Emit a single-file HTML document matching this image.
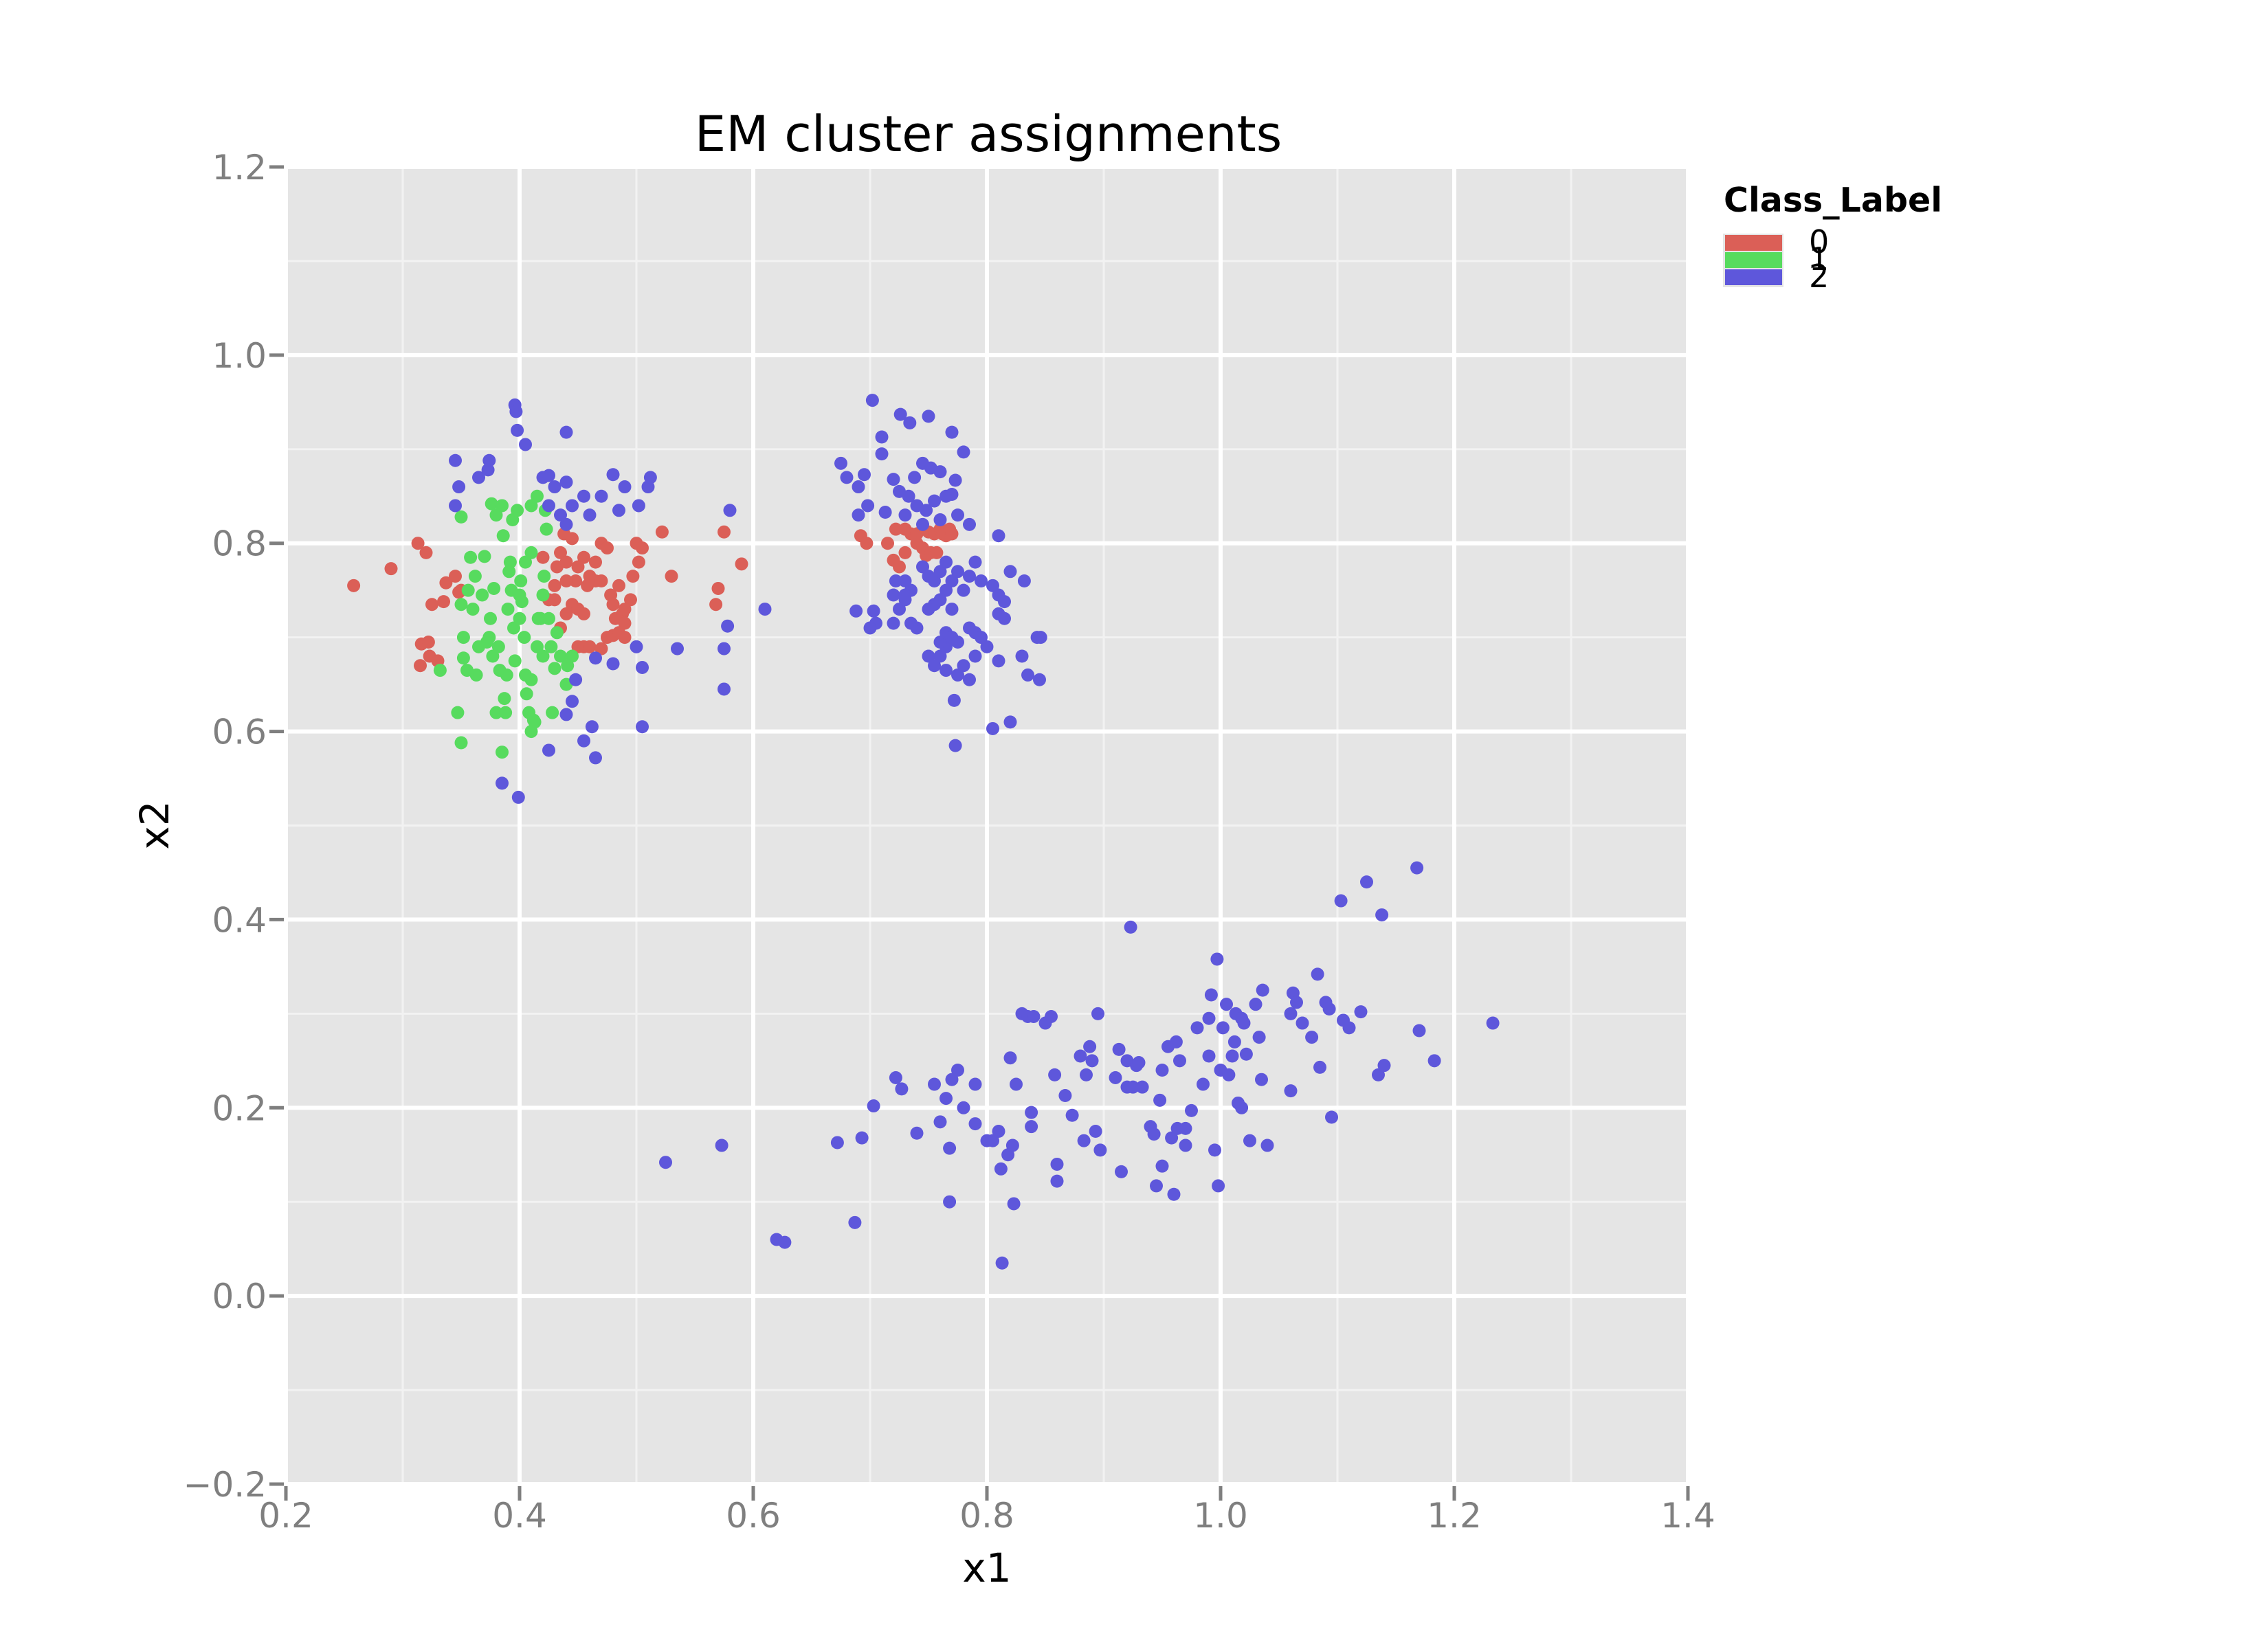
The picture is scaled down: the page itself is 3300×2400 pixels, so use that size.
<!DOCTYPE html>
<html><head><meta charset="utf-8"><style>
html,body{margin:0;padding:0;background:#fff;}
svg{display:block;font-family:"DejaVu Sans","Liberation Sans",sans-serif;}
</style></head><body>
<svg id="chart" width="3300" height="2400" viewBox="0 0 3300 2400" xmlns="http://www.w3.org/2000/svg">
<rect width="3300" height="2400" fill="#fff"/>
<text x="1438" y="220" font-size="72" text-anchor="middle" fill="#000">EM cluster assignments</text>
<rect x="416" y="243" width="2040" height="1917" fill="#e5e5e5"/>
<g id="grid"></g>
<g id="axes"></g>
<g id="marks"></g>
<text x="1436" y="2302" font-size="58" text-anchor="middle" fill="#000">x1</text>
<text x="0" y="0" font-size="58" text-anchor="middle" fill="#000" transform="translate(245,1201) rotate(-90)">x2</text>
<g>
<text x="2508" y="308" font-size="49" font-weight="bold" fill="#000">Class_Label</text>
<rect x="2507" y="340" width="88" height="78" fill="#e5e5e5"/>
<rect x="2510" y="342" width="83" height="23" fill="#db5f57"/>
<rect x="2510" y="367" width="83" height="23" fill="#57db5e"/>
<rect x="2510" y="392" width="83" height="23" fill="#5e57db"/>
<text x="2632" y="368" font-size="46" fill="#000">0</text>
<text x="2632" y="393" font-size="46" fill="#000">1</text>
<text x="2632" y="418" font-size="46" fill="#000">2</text>
</g>
</svg>
<script>
const xTicks = [0.2,0.4,0.6,0.8,1.0,1.2,1.4];
const yTicks = [-0.2,0.0,0.2,0.4,0.6,0.8,1.0,1.2];
const xTickLabels = ["0.2","0.4","0.6","0.8","1.0","1.2","1.4"];
const yTickLabels = ["\u22120.2","0.0","0.2","0.4","0.6","0.8","1.0","1.2"];
const classColors = ["#db5f57","#57db5e","#5e57db"];
const class0Points = [[0.258,0.755],[0.29,0.773],[0.313,0.8],[0.32,0.79],[0.316,0.693],[0.322,0.695],[0.315,0.67],[0.323,0.68],[0.33,0.675],[0.325,0.735],[0.335,0.738],[0.337,0.758],[0.345,0.765],[0.348,0.748],[0.35,0.75],[0.42,0.785],[0.425,0.74],[0.43,0.755],[0.432,0.775],[0.435,0.79],[0.438,0.81],[0.44,0.78],[0.445,0.805],[0.448,0.76],[0.45,0.775],[0.455,0.785],[0.46,0.765],[0.465,0.78],[0.47,0.8],[0.475,0.795],[0.465,0.76],[0.47,0.76],[0.478,0.745],[0.48,0.735],[0.485,0.755],[0.482,0.72],[0.488,0.725],[0.49,0.715],[0.495,0.74],[0.49,0.73],[0.497,0.765],[0.5,0.8],[0.502,0.78],[0.505,0.795],[0.44,0.725],[0.445,0.735],[0.45,0.73],[0.455,0.725],[0.435,0.71],[0.45,0.69],[0.455,0.69],[0.46,0.69],[0.47,0.688],[0.475,0.7],[0.48,0.702],[0.485,0.705],[0.49,0.7],[0.43,0.74],[0.44,0.76],[0.458,0.755],[0.522,0.812],[0.53,0.765],[0.568,0.735],[0.57,0.752],[0.575,0.812],[0.59,0.778],[0.692,0.808],[0.697,0.8],[0.715,0.8],[0.72,0.782],[0.722,0.815],[0.725,0.775],[0.73,0.79],[0.73,0.815],[0.735,0.81],[0.74,0.8],[0.745,0.795],[0.748,0.787],[0.75,0.812],[0.752,0.79],[0.755,0.81],[0.757,0.79],[0.76,0.815],[0.762,0.81],[0.765,0.808],[0.768,0.815],[0.77,0.81],[0.745,0.815],[0.74,0.81]];
const class1Points = [[0.332,0.665],[0.347,0.62],[0.35,0.588],[0.35,0.828],[0.35,0.735],[0.352,0.7],[0.352,0.678],[0.355,0.665],[0.356,0.75],[0.358,0.785],[0.36,0.73],[0.362,0.765],[0.363,0.66],[0.365,0.69],[0.368,0.745],[0.37,0.786],[0.372,0.695],[0.374,0.7],[0.375,0.72],[0.376,0.842],[0.377,0.68],[0.378,0.752],[0.38,0.62],[0.38,0.83],[0.382,0.69],[0.383,0.665],[0.385,0.84],[0.386,0.808],[0.385,0.578],[0.387,0.635],[0.388,0.62],[0.389,0.66],[0.39,0.73],[0.391,0.77],[0.392,0.78],[0.393,0.75],[0.394,0.825],[0.395,0.71],[0.396,0.675],[0.398,0.835],[0.4,0.745],[0.4,0.72],[0.401,0.76],[0.402,0.738],[0.404,0.7],[0.405,0.66],[0.406,0.64],[0.408,0.62],[0.41,0.6],[0.41,0.655],[0.412,0.612],[0.413,0.61],[0.415,0.69],[0.416,0.72],[0.418,0.72],[0.42,0.68],[0.42,0.745],[0.421,0.765],[0.422,0.835],[0.423,0.815],[0.425,0.72],[0.427,0.69],[0.428,0.62],[0.43,0.667],[0.432,0.705],[0.435,0.68],[0.44,0.65],[0.441,0.67],[0.445,0.68],[0.41,0.84],[0.415,0.85],[0.405,0.78],[0.41,0.79]];
const class2Points = [[0.345,0.888],[0.348,0.86],[0.345,0.84],[0.365,0.87],[0.373,0.878],[0.374,0.888],[0.385,0.545],[0.396,0.947],[0.397,0.94],[0.398,0.92],[0.399,0.53],[0.405,0.905],[0.42,0.87],[0.425,0.872],[0.425,0.58],[0.43,0.86],[0.44,0.918],[0.44,0.865],[0.445,0.84],[0.44,0.82],[0.44,0.618],[0.445,0.632],[0.448,0.655],[0.455,0.85],[0.455,0.59],[0.46,0.83],[0.462,0.605],[0.465,0.572],[0.465,0.678],[0.47,0.85],[0.48,0.873],[0.48,0.672],[0.485,0.835],[0.49,0.86],[0.5,0.69],[0.502,0.84],[0.505,0.668],[0.505,0.605],[0.51,0.86],[0.512,0.87],[0.535,0.688],[0.575,0.688],[0.575,0.645],[0.578,0.712],[0.58,0.835],[0.61,0.73],[0.425,0.84],[0.435,0.83],
[0.702,0.952],[0.726,0.937],[0.734,0.928],[0.75,0.935],[0.77,0.918],[0.71,0.913],[0.78,0.897],[0.71,0.895],[0.675,0.885],[0.695,0.873],[0.72,0.868],[0.738,0.87],[0.745,0.885],[0.752,0.88],[0.76,0.876],[0.773,0.867],[0.68,0.87],[0.69,0.86],[0.698,0.84],[0.69,0.83],[0.713,0.833],[0.725,0.855],[0.733,0.85],[0.74,0.84],[0.748,0.835],[0.755,0.845],[0.765,0.85],[0.77,0.852],[0.775,0.83],[0.785,0.82],[0.73,0.83],[0.745,0.82],[0.76,0.825],[0.745,0.775],[0.75,0.765],[0.755,0.76],[0.76,0.77],[0.765,0.75],[0.77,0.76],[0.775,0.77],[0.78,0.75],[0.785,0.765],[0.79,0.78],[0.795,0.76],[0.805,0.755],[0.81,0.808],[0.81,0.745],[0.815,0.738],[0.81,0.725],[0.815,0.72],[0.82,0.77],[0.832,0.76],[0.83,0.68],[0.835,0.66],[0.843,0.7],[0.845,0.655],[0.846,0.7],[0.82,0.61],[0.805,0.603],[0.773,0.585],[0.772,0.633],[0.76,0.68],[0.765,0.69],[0.76,0.695],[0.765,0.705],[0.77,0.7],[0.775,0.66],[0.78,0.67],[0.785,0.655],[0.79,0.68],[0.79,0.705],[0.795,0.7],[0.8,0.69],[0.81,0.675],[0.785,0.71],[0.755,0.67],[0.75,0.68],[0.765,0.665],[0.775,0.695],[0.72,0.745],[0.722,0.76],[0.725,0.73],[0.73,0.74],[0.735,0.75],[0.73,0.76],[0.72,0.715],[0.705,0.715],[0.7,0.71],[0.703,0.728],[0.688,0.728],[0.74,0.71],[0.735,0.715],[0.755,0.735],[0.76,0.74],[0.77,0.73],[0.75,0.73],[0.765,0.78],[0.73,0.745],
[0.525,0.142],[0.573,0.16],[0.62,0.06],[0.627,0.057],[0.672,0.163],[0.687,0.078],[0.693,0.168],[0.703,0.202],[0.722,0.232],[0.727,0.22],[0.74,0.173],[0.755,0.225],[0.76,0.185],[0.765,0.21],[0.77,0.23],[0.768,0.157],[0.768,0.1],[0.775,0.24],[0.78,0.2],[0.79,0.225],[0.79,0.183],[0.8,0.165],[0.805,0.165],[0.81,0.175],[0.812,0.135],[0.813,0.035],[0.818,0.15],[0.82,0.253],[0.822,0.16],[0.823,0.098],[0.825,0.225],[0.83,0.3],[0.835,0.297],[0.838,0.195],[0.838,0.18],[0.84,0.297],[0.85,0.29],[0.855,0.297],[0.858,0.235],[0.86,0.122],[0.86,0.14],[0.867,0.213],[0.873,0.192],[0.88,0.255],[0.883,0.165],[0.885,0.235],[0.888,0.265],[0.89,0.25],[0.893,0.175],[0.895,0.3],[0.897,0.155],[0.91,0.232],[0.913,0.262],[0.915,0.132],[0.92,0.25],[0.92,0.222],[0.923,0.392],[0.925,0.222],[0.928,0.245],[0.93,0.248],[0.933,0.222],[0.94,0.18],[0.943,0.172],[0.945,0.117],[0.948,0.208],[0.95,0.24],[0.95,0.138],[0.955,0.265],[0.958,0.168],[0.96,0.108],[0.962,0.27],[0.963,0.178],[0.965,0.25],[0.97,0.178],[0.97,0.16],[0.975,0.197],[0.98,0.285],[0.985,0.225],[0.99,0.295],[0.99,0.255],[0.992,0.32],[0.995,0.155],[0.997,0.358],[0.998,0.117],[1.0,0.24],[1.002,0.285],[1.005,0.31],[1.007,0.235],[1.01,0.255],[1.012,0.27],[1.013,0.3],[1.015,0.205],[1.018,0.2],[1.018,0.295],[1.02,0.29],[1.022,0.257],[1.025,0.165],[1.03,0.31],[1.033,0.275],[1.035,0.23],[1.036,0.325],[1.04,0.16],[1.06,0.3],[1.062,0.322],[1.065,0.312],[1.06,0.218],[1.07,0.29],[1.078,0.275],[1.083,0.342],[1.085,0.243],[1.09,0.312],[1.093,0.305],[1.095,0.19],[1.103,0.42],[1.105,0.293],[1.11,0.285],[1.12,0.302],[1.125,0.44],[1.135,0.235],[1.138,0.405],[1.14,0.245],[1.168,0.455],[1.17,0.282],[1.183,0.25],[1.233,0.29]];

const NS = "http://www.w3.org/2000/svg";
const X0 = 416, X1 = 2456, Y0 = 2160, Y1 = 243;
const xMin = 0.2, xMax = 1.4, yMin = -0.2, yMax = 1.2;
function sx(v){ return X0 + (v - xMin) / (xMax - xMin) * (X1 - X0); }
function sy(v){ return Y0 - (v - yMin) / (yMax - yMin) * (Y0 - Y1); }
function mk(tag, attrs, parent){
  const e = document.createElementNS(NS, tag);
  for (const k in attrs) e.setAttribute(k, attrs[k]);
  parent.appendChild(e);
  return e;
}
const grid = document.getElementById('grid');
const axes = document.getElementById('axes');
const marks = document.getElementById('marks');
for (let i = 0; i < xTicks.length - 1; i++) {
  const v = (xTicks[i] + xTicks[i+1]) / 2;
  const l = mk('line', {x1: sx(v), x2: sx(v), y1: Y1, y2: Y0, stroke: '#f2f2f2', 'stroke-width': 3}, grid);
  
  
}
for (let i = 0; i < yTicks.length - 1; i++) {
  const v = (yTicks[i] + yTicks[i+1]) / 2;
  const l = mk('line', {x1: X0, x2: X1, y1: sy(v), y2: sy(v), stroke: '#f2f2f2', 'stroke-width': 3}, grid);
  
  
}
xTicks.forEach((v, i) => {
  const l = mk('line', {x1: sx(v), x2: sx(v), y1: Y1, y2: Y0, stroke: '#ffffff', 'stroke-width': 6}, grid);
  
  
  const t = mk('line', {x1: sx(v), x2: sx(v), y1: Y0 + 3, y2: Y0 + 24, stroke: '#7f7f7f', 'stroke-width': 5}, axes);
  
  
  const tx = mk('text', {x: sx(v), y: 2223, 'font-size': 50, 'text-anchor': 'middle', fill: '#7f7f7f'}, axes);
  tx.textContent = xTickLabels[i];
  
  
});
yTicks.forEach((v, i) => {
  const l = mk('line', {x1: X0, x2: X1, y1: sy(v), y2: sy(v), stroke: '#ffffff', 'stroke-width': 6}, grid);
  
  
  const t = mk('line', {x1: X0 - 24, x2: X0 - 3, y1: sy(v), y2: sy(v), stroke: '#7f7f7f', 'stroke-width': 5}, axes);
  
  
  const ty = mk('text', {x: 388, y: sy(v) + 18, 'font-size': 50, 'text-anchor': 'end', fill: '#7f7f7f'}, axes);
  ty.textContent = yTickLabels[i];
  
  
});
[class0Points, class1Points, class2Points].forEach((pts, c) => {
  pts.forEach(p => {
    const d = mk('circle', {cx: sx(p[0]), cy: sy(p[1]), r: 9.5, fill: classColors[c]}, marks);
    
    
  });
});
</script>
</body></html>
